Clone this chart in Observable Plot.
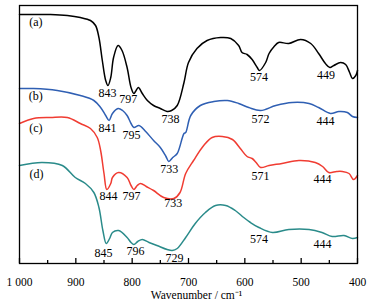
<!DOCTYPE html>
<html>
<head>
<meta charset="utf-8">
<script src="https://cdn.jsdelivr.net/npm/d3@7"></script>
<script src="https://cdn.jsdelivr.net/npm/@observablehq/plot@0.6"></script>
<style>
  html, body { margin: 0; padding: 0; background: #fff; }
  #chart { width: 370px; height: 305px; }
</style>
</head>
<body>
<div id="chart"></div>
<script>
// Wavenumber (cm^-1) and offset transmittance (arbitrary units)
const spectrumA = [[1000,249],[975,249],[945,249],[915,248],[892,246],[874,243],[865,238],[859,226],[853,203],[847,183],[843,178],[838,186],[833,206],[825,218],[818,213],[809,196],[802,176],[797,170],[794,172],[789,176],[782,170],[773,163],[762,158],[750,155],[738,152],[730,153],[720,158],[708,181],[700,201],[685,215],[667,223],[643,226],[625,225],[611,218],[605,211],[596,209],[587,204],[578,196],[574,193],[563,201],[557,210],[548,217],[540,221],[522,220],[501,224],[483,220],[469,210],[457,200],[449,196],[442,198],[430,201],[421,199],[414,191],[409,185],[403,188],[400,193]];
const spectrumB = [[1000,175],[975,175],[933,173],[892,168],[868,163],[856,156],[847,148],[841,143],[835,150],[825,155],[817,153],[809,148],[802,140],[797,136],[788,138],[776,132],[762,123],[750,116],[740,107],[735,102],[728,106],[720,110],[708,130],[705,131],[696,148],[679,158],[655,162],[631,163],[611,160],[593,156],[572,153],[545,158],[516,161],[486,160],[469,156],[448,150],[433,152],[418,151],[409,147],[400,146]];
const spectrumC = [[1000,140],[975,145],[945,146],[915,146],[892,140],[874,135],[862,126],[856,113],[850,90],[845,74],[838,80],[835,86],[824,91],[809,86],[802,78],[797,74],[791,78],[785,80],[775,77],[762,73],[744,66],[726,65],[715,71],[705,90],[691,103],[673,118],[658,126],[640,127],[622,124],[608,115],[596,107],[587,105],[580,101],[572,96],[557,98],[534,100],[504,103],[475,101],[462,97],[451,91],[437,92],[427,92],[415,90],[407,84],[400,88]];
const spectrumD = [[1000,98],[960,101],[924,98],[901,86],[883,80],[868,71],[859,56],[852,33],[846,20],[840,25],[835,31],[824,33],[809,26],[802,21],[797,19],[790,22],[782,24],[770,21],[756,18],[738,14],[729,13],[720,15],[705,26],[688,40],[670,51],[652,58],[634,58],[617,53],[602,46],[590,41],[575,36],[551,31],[522,34],[486,34],[463,31],[445,27],[424,28],[409,25],[400,26]];

const seriesNames = ["(a)", "(b)", "(c)", "(d)"];
const seriesColors = ["#000000", "#2f5fb3", "#f03c32", "#2a8b8a"];
const seriesLabelPos = [[971, 241], [971, 167], [971, 135.5], [970, 89]];

const peakLabels = [
  ["843", 844, 170], ["797", 807, 164], ["738", 732, 144], ["574", 575, 186.5], ["449", 456, 188.5],
  ["841", 844, 135.5], ["795", 801, 128], ["733", 734, 94], ["572", 572, 144], ["444", 457, 142],
  ["844", 842, 67], ["797", 801, 67], ["733", 727, 60], ["571", 572, 87], ["444", 462, 84],
  ["845", 851, 10], ["796", 794, 12], ["729", 725, 5.5], ["574", 575, 24], ["444", 462, 19]
];

const majorTicks = [1000, 900, 800, 700, 600, 500, 400];
const majorTickLabels = ["1 000", "900", "800", "700", "600", "500", "400"];
const minorTicks = [950, 850, 750, 650, 550, 450];
const xTitle = "Wavenumber / cm\u207B\u00B9";

const spectra = [spectrumA, spectrumB, spectrumC, spectrumD];
const lineData = spectra.flatMap((s, i) => s.map(([w, t]) => ({w, t, s: seriesNames[i]})));
const nameData = seriesNames.map((n, i) => ({n, w: seriesLabelPos[i][0], t: seriesLabelPos[i][1]}));
const peakData = peakLabels.map(([text, w, t]) => ({text, w, t}));

const font = "Liberation Serif, Times New Roman, serif";

const chart = Plot.plot({
  width: 370,
  height: 305,
  marginTop: 5,
  marginRight: 13,
  marginBottom: 42,
  marginLeft: 19,
  style: {fontFamily: font, fontSize: "12px", background: "#fff", color: "#000"},
  x: {domain: [1000, 400], label: null},
  y: {domain: [0, 258], axis: null},
  color: {domain: seriesNames, range: seriesColors},
  marks: [
    Plot.line(lineData, {x: "w", y: "t", z: "s", stroke: "s", strokeWidth: 1.5, curve: "catmull-rom"}),
    Plot.text(nameData, {x: "w", y: "t", text: "n", fontSize: 12, fill: "#000"}),
    Plot.text(peakData, {x: "w", y: "t", text: "text", fontSize: 12, fill: "#000"}),
    Plot.axisX(majorTicks, {tickSize: -5, tickFormat: () => "", strokeWidth: 1.3, label: null}),
    Plot.axisX(minorTicks, {tickSize: -3, tickFormat: () => "", strokeWidth: 1.3, label: null}),
    Plot.axisX(majorTicks, {tickSize: 0, tickPadding: 14, tickFormat: (d) => majorTickLabels[majorTicks.indexOf(d)], fontSize: 11.5, label: null}),
    Plot.text([xTitle], {frameAnchor: "bottom", dy: 35, dx: 8, fontSize: 11.5, fill: "#000"}),
    Plot.frame({stroke: "#000", strokeWidth: 1.3})
  ]
});
document.getElementById("chart").appendChild(chart);
</script>
</body>
</html>
